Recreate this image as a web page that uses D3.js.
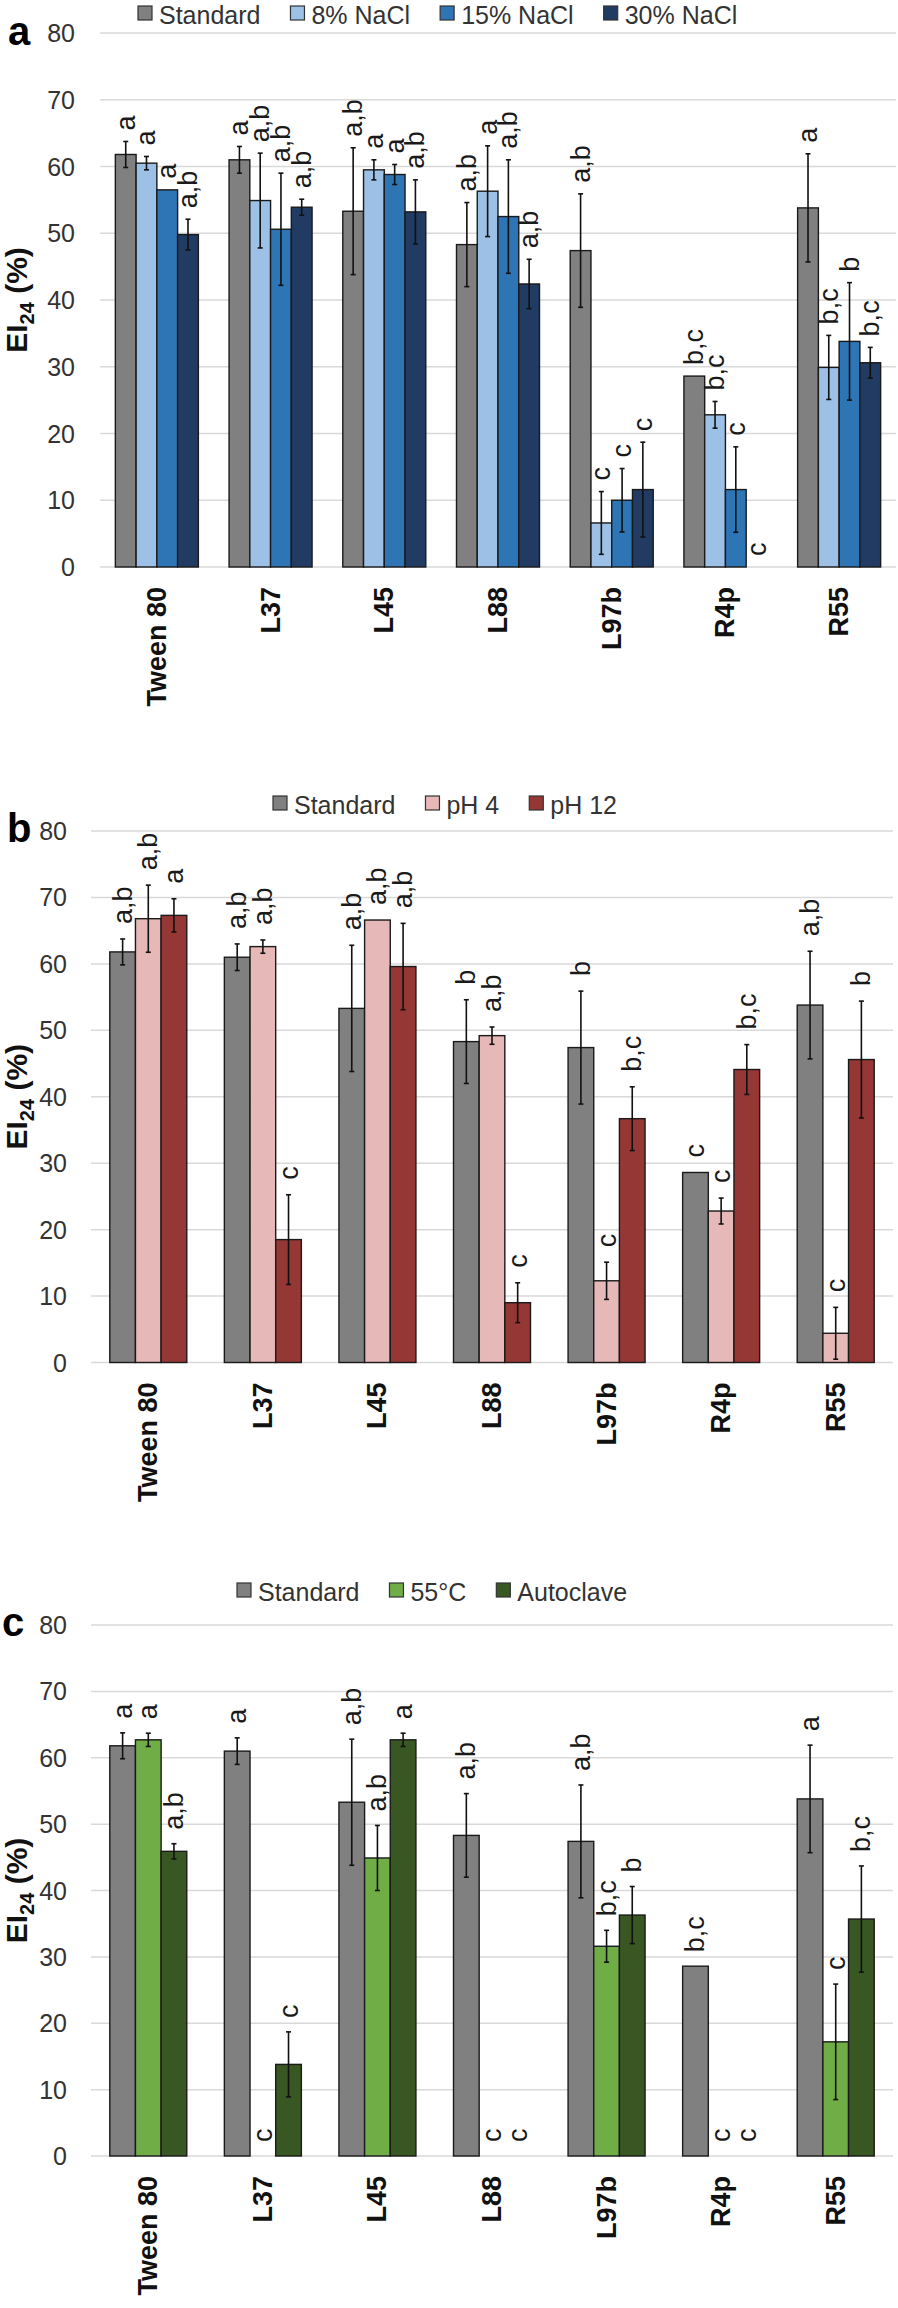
<!DOCTYPE html>
<html>
<head>
<meta charset="utf-8">
<script src="https://cdn.jsdelivr.net/npm/d3@7"></script>
<style>
  html, body { margin: 0; padding: 0; background: #fff; }
  svg { display: block; font-family: "Liberation Sans", Arial, sans-serif; }
</style>
</head>
<body>
<svg id="chart" width="898" height="2308"></svg>
<script>
// ---------------- DATA ----------------
const categories = ["Tween 80", "L37", "L45", "L88", "L97b", "R4p", "R55"];
const yTicks = [0, 10, 20, 30, 40, 50, 60, 70, 80];

// Standard (shared control)
const standardVals = [61.8, 61.0, 53.3, 48.3, 47.4, 28.6, 53.8];
const standardErr  = [1.95, 2.0, 9.5, 6.3, 8.5, 0, 8.1];
const standardLabA = ["a", "a", "a,b", "a,b", "a,b", "b,c", "a"];
const standardLabB = ["a,b", "a,b", "a,b", "b", "b", "c", "a,b"];
const standardLabC = ["a", "a", "a,b", "a,b", "a,b", "b,c", "a"];

// Panel a: salinity
const nacl8Vals  = [60.5, 54.9, 59.5, 56.3, 6.6, 22.8, 29.9];
const nacl8Err   = [1.0, 7.1, 1.5, 6.8, 4.7, 2.0, 4.8];
const nacl8Lab   = ["a", "a,b", "a", "a", "c", "b,c", "b,c"];
const nacl15Vals = [56.5, 50.6, 58.8, 52.5, 10.0, 11.6, 33.8];
const nacl15Err  = [0, 8.4, 1.5, 8.5, 4.75, 6.4, 8.8];
const nacl15Lab  = ["a", "a,b", "a", "a,b", "c", "c", "b"];
const nacl30Vals = [49.8, 53.9, 53.2, 42.4, 11.6, 0, 30.6];
const nacl30Err  = [2.3, 1.2, 4.8, 3.7, 7.1, 0, 2.3];
const nacl30Lab  = ["a,b", "a,b", "a,b", "a,b", "c", "c", "b,c"];

// Panel b: pH
const ph4Vals  = [66.8, 62.6, 66.6, 49.2, 12.3, 22.8, 4.4];
const ph4Err   = [5.05, 1.0, 0, 1.3, 2.8, 1.95, 3.9];
const ph4Lab   = ["a,b", "a,b", "a,b", "a,b", "c", "c", "c"];
const ph12Vals = [67.3, 18.5, 59.6, 9.0, 36.7, 44.1, 45.6];
const ph12Err  = [2.5, 6.75, 6.5, 3.0, 4.8, 3.75, 8.8];
const ph12Lab  = ["a", "c", "a,b", "c", "b,c", "b,c", "b"];

// Panel c: temperature
const t55Vals  = [62.7, 0, 44.9, 0, 31.6, 0, 17.2];
const t55Err   = [1.0, 0, 4.9, 0, 2.4, 0, 8.7];
const t55Lab   = ["a", "c", "a,b", "c", "b,c", "c", "c"];
const autoVals = [45.9, 13.8, 62.7, 0, 36.3, 0, 35.7];
const autoErr  = [1.15, 4.9, 1.0, 0, 4.3, 0, 8.0];
const autoLab  = ["a,b", "c", "a", "c", "b", "c", "b,c"];

// ---------------- CONFIG ----------------
const panels = [
  {
    letter: "a",
    series: [
      { name: "Standard", vals: standardVals, err: standardErr, lab: standardLabA, color: "#808080" },
      { name: "8% NaCl",  vals: nacl8Vals,  err: nacl8Err,  lab: nacl8Lab,  color: "#9dc0e6" },
      { name: "15% NaCl", vals: nacl15Vals, err: nacl15Err, lab: nacl15Lab, color: "#2e75b6" },
      { name: "30% NaCl", vals: nacl30Vals, err: nacl30Err, lab: nacl30Lab, color: "#213b63" }
    ],
    x0: 100, x1: 896, yTop: 33, yBot: 567, pad: 0.27,
    tickX: 75, legendX: 138, legendY: 24, letterX: 8, letterY: 45, labGap: 11
  },
  {
    letter: "b",
    series: [
      { name: "Standard", vals: standardVals, err: standardErr, lab: standardLabB, color: "#808080" },
      { name: "pH 4",  vals: ph4Vals,  err: ph4Err,  lab: ph4Lab,  color: "#e6b8b7" },
      { name: "pH 12", vals: ph12Vals, err: ph12Err, lab: ph12Lab, color: "#953735" }
    ],
    x0: 91, x1: 893, yTop: 831, yBot: 1362.5, pad: 0.328,
    tickX: 67, legendX: 273, legendY: 814, letterX: 7, letterY: 842, labGap: 15
  },
  {
    letter: "c",
    series: [
      { name: "Standard", vals: standardVals, err: standardErr, lab: standardLabC, color: "#808080" },
      { name: "55°C", vals: t55Vals, err: t55Err, lab: t55Lab, color: "#70ad47" },
      { name: "Autoclave", vals: autoVals, err: autoErr, lab: autoLab, color: "#385723" }
    ],
    x0: 91, x1: 893, yTop: 1625, yBot: 2156, pad: 0.328,
    tickX: 67, legendX: 237, legendY: 1601, letterX: 2, letterY: 1636, labGap: 14
  }
];

const svg = d3.select("#chart");

panels.forEach(p => {
  const g = svg.append("g");
  const x = d3.scaleBand().domain(categories).range([p.x0, p.x1])
    .paddingInner(p.pad).paddingOuter(p.pad / 2);
  const xs = d3.scaleBand().domain(p.series.map(s => s.name)).range([0, x.bandwidth()]);
  const y = d3.scaleLinear().domain([0, 80]).range([p.yBot, p.yTop]);

  // gridlines
  g.append("g").selectAll("line").data(yTicks).join("line")
    .attr("x1", p.x0).attr("x2", p.x1)
    .attr("y1", d => y(d)).attr("y2", d => y(d))
    .attr("stroke", "#d9d9d9").attr("stroke-width", 1.5);

  // y tick labels
  g.append("g").selectAll("text").data(yTicks).join("text")
    .attr("x", p.tickX).attr("y", d => y(d))
    .attr("text-anchor", "end").attr("dominant-baseline", "central")
    .attr("font-size", 25).attr("fill", "#333")
    .text(d => d);

  // bars
  p.series.forEach(s => {
    const sg = g.append("g");
    const data = categories.map((c, i) => ({ c, v: s.vals[i], e: s.err[i], l: s.lab[i] }));
    sg.selectAll("rect").data(data.filter(d => d.v > 0)).join("rect")
      .attr("x", d => x(d.c) + xs(s.name))
      .attr("y", d => y(d.v))
      .attr("width", xs.bandwidth())
      .attr("height", d => y(0) - y(d.v))
      .attr("fill", s.color).attr("stroke", "#1a1a1a").attr("stroke-width", 1.4);

    const eb = data.filter(d => d.e > 0);
    const cx = d => x(d.c) + xs(s.name) + xs.bandwidth() / 2;
    sg.selectAll("line.v").data(eb).join("line").attr("class", "v")
      .attr("x1", cx).attr("x2", cx)
      .attr("y1", d => y(d.v + d.e)).attr("y2", d => y(d.v - d.e))
      .attr("stroke", "#111").attr("stroke-width", 1.6);
    sg.selectAll("line.t").data(eb).join("line").attr("class", "t")
      .attr("x1", d => cx(d) - 2.5).attr("x2", d => cx(d) + 2.5)
      .attr("y1", d => y(d.v + d.e)).attr("y2", d => y(d.v + d.e))
      .attr("stroke", "#111").attr("stroke-width", 1.6);
    sg.selectAll("line.b").data(eb).join("line").attr("class", "b")
      .attr("x1", d => cx(d) - 2.5).attr("x2", d => cx(d) + 2.5)
      .attr("y1", d => y(d.v - d.e)).attr("y2", d => y(d.v - d.e))
      .attr("stroke", "#111").attr("stroke-width", 1.6);

    // significance letters
    sg.selectAll("text").data(data).join("text")
      .attr("transform", d => `translate(${cx(d)},${y(d.v + d.e) - p.labGap}) rotate(-90)`)
      .attr("text-anchor", "start").attr("dominant-baseline", "central")
      .attr("font-size", 27).attr("fill", "#1a1a1a")
      .text(d => d.l);
  });

  // x labels
  g.append("g").selectAll("text").data(categories).join("text")
    .attr("transform", d => `translate(${x(d) + x.bandwidth() / 2},${p.yBot + 20}) rotate(-90)`)
    .attr("text-anchor", "end").attr("dominant-baseline", "central")
    .attr("font-size", 27).attr("font-weight", "bold").attr("fill", "#111")
    .text(d => d);

  // y axis title
  const cy = (p.yTop + p.yBot) / 2;
  const t = g.append("text")
    .attr("transform", `translate(27,${cy}) rotate(-90)`)
    .attr("text-anchor", "middle")
    .attr("font-size", 30).attr("font-weight", "bold").attr("fill", "#111");
  t.append("tspan").text("EI");
  t.append("tspan").attr("font-size", 20).attr("dy", 7).text("24");
  t.append("tspan").attr("dy", -7).text(" (%)");

  // panel letter
  g.append("text").attr("x", p.letterX).attr("y", p.letterY)
    .attr("font-size", 40).attr("font-weight", "bold").attr("fill", "#000")
    .text(p.letter);

  // legend
  let lx = p.legendX;
  p.series.forEach(s => {
    g.append("rect").attr("x", lx).attr("y", p.legendY - 18).attr("width", 14).attr("height", 14)
      .attr("fill", s.color).attr("stroke", "#333").attr("stroke-width", 1.2);
    const tx = g.append("text").attr("x", lx + 21).attr("y", p.legendY)
      .attr("font-size", 25).attr("fill", "#333").text(s.name);
    lx += 21 + tx.node().getComputedTextLength() + 30;
  });
});
</script>
</body>
</html>
